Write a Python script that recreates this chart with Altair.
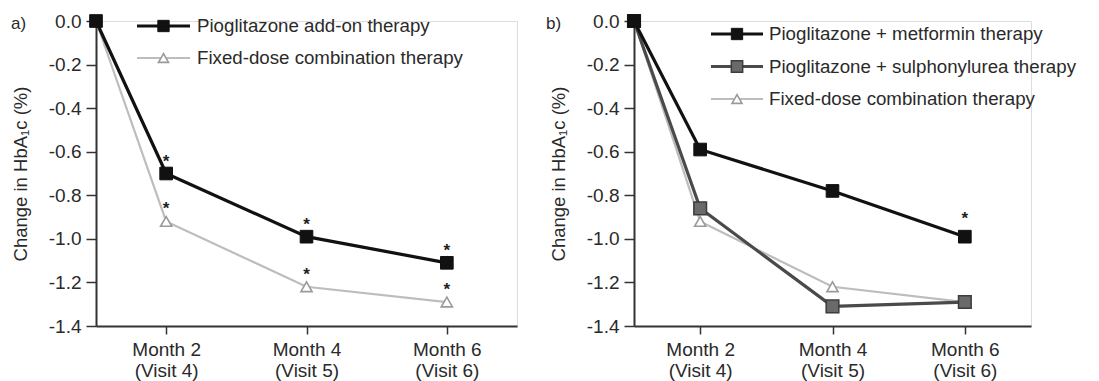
import altair as alt
import pandas as pd

# ---------------- data ----------------
x_pos = [0, 1, 3, 5]                      # baseline, month 2, month 4, month 6 (axis units)
tick_pos = [1, 3, 5]
month_labels = ["Month 2", "Month 4", "Month 6"]
visit_labels = ["(Visit 4)", "(Visit 5)", "(Visit 6)"]
y_ticks = [0.0, -0.2, -0.4, -0.6, -0.8, -1.0, -1.2, -1.4]

a_names = ["Pioglitazone add-on therapy", "Fixed-dose combination therapy"]
a_addon = [0.0, -0.70, -0.99, -1.11]
a_fdc = [0.0, -0.92, -1.22, -1.29]
a_addon_sig = [0, 1, 1, 1]
a_fdc_sig = [0, 1, 1, 1]

b_names = ["Pioglitazone + metformin therapy",
           "Pioglitazone + sulphonylurea therapy",
           "Fixed-dose combination therapy"]
b_met = [0.0, -0.59, -0.78, -0.99]
b_su = [0.0, -0.86, -1.31, -1.29]
b_fdc = [0.0, -0.92, -1.22, -1.29]
b_met_sig = [0, 0, 0, 1]
b_su_sig = [0, 0, 0, 0]
b_fdc_sig = [0, 0, 0, 0]

FONT = "Liberation Sans"
TXT = "#2a2a2a"

STYLE = {
    "black": dict(line="#111111", lw=3.2, shape="square", fill="#111111", stroke="#111111", size=160, sw=1),
    "dark": dict(line="#4a4a4a", lw=3.2, shape="square", fill="#6a6a6a", stroke="#3c3c3c", size=160, sw=1.5),
    "light": dict(line="#bdbdbd", lw=2.2, shape="triangle-up", fill="#ffffff", stroke="#9a9a9a", size=125, sw=1.6),
}

label_expr = " : ".join(
    f"datum.value == {p} ? ['{m}', '{v}']" for p, m, v in zip(tick_pos, month_labels, visit_labels)
) + " : ''"


def x_enc():
    return alt.X(
        "x:Q",
        scale=alt.Scale(domain=[0, 6], nice=False, zero=False),
        axis=alt.Axis(
            values=tick_pos, labelExpr=label_expr, title=None, grid=False,
            domainColor="#333333", domainWidth=2, tickColor="#333333", tickWidth=1.5,
            tickSize=8, labelPadding=6, labelFontSize=19, labelLineHeight=21,
            labelColor=TXT, labelFont=FONT,
        ),
    )


def y_enc():
    return alt.Y(
        "v:Q",
        scale=alt.Scale(domain=[-1.4, 0], nice=False, zero=False),
        axis=alt.Axis(
            values=y_ticks,
            labelExpr="datum.value == 0 ? '0.0' : '-' + format(abs(datum.value), '.1f')",
            title="Change in HbA\u2081c (%)", titleFontSize=18.5, titleFontWeight="normal",
            titleColor=TXT, titleFont=FONT, titlePadding=18,
            grid=False, domainColor="#333333", domainWidth=2, tickColor="#333333",
            tickWidth=1.5, tickSize=10, labelPadding=5, labelFontSize=19,
            labelColor=TXT, labelFont=FONT,
        ),
    )


def series_layers(values, sig, style, star_dy):
    st = STYLE[style]
    df = pd.DataFrame({"x": x_pos, "v": values, "sig": sig})
    base = alt.Chart(df).encode(x=x_enc(), y=y_enc())
    line = base.mark_line(color=st["line"], strokeWidth=st["lw"])
    pts = base.mark_point(shape=st["shape"], filled=False, fill=st["fill"], stroke=st["stroke"],
                          strokeWidth=st["sw"], size=st["size"], opacity=1, fillOpacity=1)
    stars = base.transform_filter("datum.sig == 1").mark_text(
        text="*", fontSize=17, font=FONT, fontWeight="bold", color="#222222",
        dy=star_dy, baseline="middle"
    )
    return [line, pts, stars]


def legend_layers(names, styles, lx0, lx1, tx, ly0, gap):
    out = []
    for i, (name, style) in enumerate(zip(names, styles)):
        st = STYLE[style]
        y = ly0 + i * gap
        d = alt.Data(values=[{"label": name}])
        out.append(alt.Chart(d).mark_rule(color=st["line"], strokeWidth=st["lw"]).encode(
            x=alt.value(lx0), x2=alt.value(lx1), y=alt.value(y)))
        out.append(alt.Chart(d).mark_point(shape=st["shape"], filled=False, fill=st["fill"],
                                           stroke=st["stroke"], strokeWidth=st["sw"],
                                           size=st["size"] * 0.8, opacity=1, fillOpacity=1).encode(
            x=alt.value((lx0 + lx1) / 2), y=alt.value(y)))
        out.append(alt.Chart(d).mark_text(align="left", baseline="middle", fontSize=18.7, font=FONT,
                                          color=TXT).encode(
            x=alt.value(tx), y=alt.value(y), text="label:N"))
    return out


def panel_label(text, x, y):
    return alt.Chart(alt.Data(values=[{"t": text}])).mark_text(
        align="left", baseline="middle", fontSize=17, font=FONT, color=TXT
    ).encode(x=alt.value(x), y=alt.value(y), text="t:N")


# ---------------- panel a ----------------
layers_a = []
layers_a += series_layers(a_fdc, a_fdc_sig, "light", -12)
layers_a += series_layers(a_addon, a_addon_sig, "black", -12)
layers_a += legend_layers(a_names, ["black", "light"], 41, 94, 101, 5, 32)
layers_a.append(panel_label("a)", -85, 3))
panel_a = alt.layer(*layers_a).properties(width=421, height=305)

# ---------------- panel b ----------------
layers_b = []
layers_b += series_layers(b_fdc, b_fdc_sig, "light", -18)
layers_b += series_layers(b_su, b_su_sig, "dark", -18)
layers_b += series_layers(b_met, b_met_sig, "black", -18)
layers_b += legend_layers(b_names, ["black", "dark", "light"], 77, 129, 135, 13, 32.5)
layers_b.append(panel_label("b)", -88, 3))
panel_b = alt.layer(*layers_b).properties(width=397, height=305)

chart = alt.hconcat(panel_a, panel_b, spacing=27).properties(
    padding={"left": 10, "top": 11, "right": 5, "bottom": 5}
).configure_view(stroke=None).configure(background="white")

chart.save("out.html", embed_options={"renderer": "svg", "actions": False})
